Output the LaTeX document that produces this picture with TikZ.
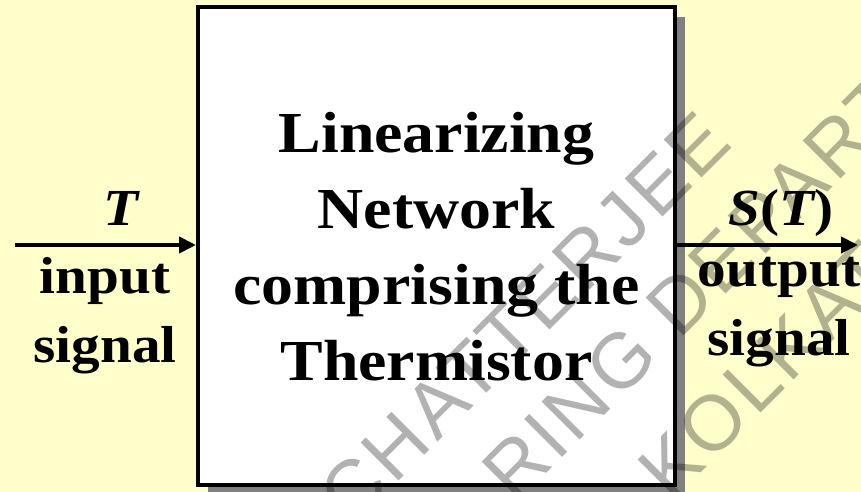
\documentclass[tikz,border=0pt]{standalone}
\usepackage{fontspec}
\setmainfont{Liberation Serif}[FakeStretch=1.1]
\newfontfamily\stampfont{Liberation Sans}[LetterSpace=5]
\usetikzlibrary{arrows.meta,shadows}
\definecolor{paper}{HTML}{FFFFCC}
\definecolor{shade}{HTML}{808080}
\tikzset{
  sig/.style={line width=4pt, -{Triangle[length=17pt,width=16pt]}},
  block/.style={draw=black, line width=4pt, fill=white,
    minimum width=477pt, minimum height=478pt, inner sep=0pt,
    drop shadow={shadow xshift=10pt, shadow yshift=-10pt, fill=shade, opacity=1}},
  big/.style={font=\bfseries\fontsize{58}{76}\selectfont, align=center, inner sep=0pt},
  lbl/.style={font=\bfseries\fontsize{52}{69}\selectfont, align=center, inner sep=0pt},
  stamp/.style={font=\stampfont\fontsize{78}{78}\selectfont, text=black,
    text opacity=0.3, rotate=45, anchor=base west, inner sep=0pt},
}
\begin{document}
\begin{tikzpicture}[x=1pt,y=-1pt]
  % page background
  \fill[paper] (0,0) rectangle (861,492);
  \useasboundingbox (0,0) rectangle (861,492);

  % the network block
  \node[block] (net) at (436.5,246) {};
  \node[big, anchor=north] (nettext) at (436.5,112)
    {Linearizing\\Network\\comprising the\\Thermistor};

  % input and output signals
  \coordinate (src) at (15,245);
  \coordinate (dst) at (858,245);
  \draw[sig] (src) -- (src -| net.west);
  \draw[sig] (dst -| net.east) -- (dst);

  \node[lbl, anchor=base] (tin) at (121,225) {\itshape T};
  \node[lbl, anchor=north] (inlbl) at (105,257) {input\\signal};
  \node[lbl, anchor=base] (sout) at (781,225) {\itshape S\upshape(\itshape T\upshape)};
  \node[lbl, anchor=north] (outlbl) at (779,257) {output\\signal};

  % diagonal stamp across the page
  \begin{scope}
    \clip (0,0) rectangle (861,492);
    \node[stamp] (wm1) at (352,528) {CHATTERJEE};
    \node[stamp] (wm2) at (515,505) {RING DEPART};
    \node[stamp] (wm3) at (671,503) {KOLKATA};
  \end{scope}
\end{tikzpicture}
\end{document}
